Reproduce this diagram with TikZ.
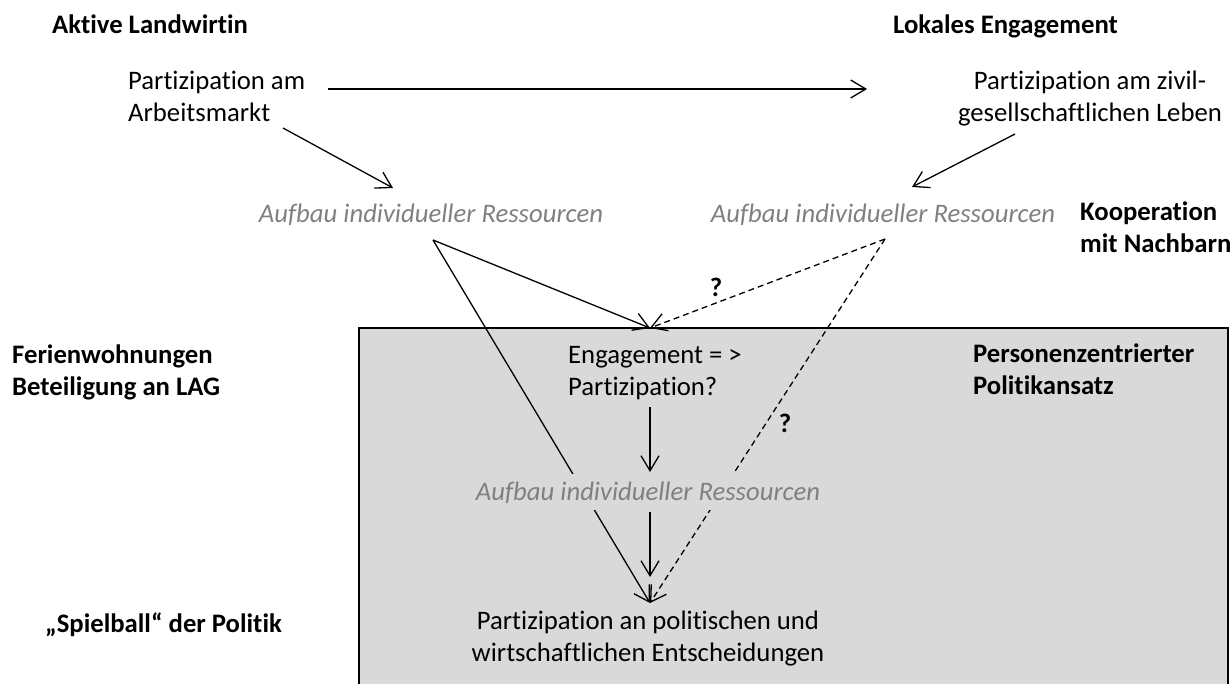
\documentclass[tikz,border=0pt]{standalone}
\usepackage{fontspec}
\setmainfont{Carlito}[Ligatures={TeX,NoCommon}]
\usetikzlibrary{arrows.meta}
\definecolor{boxgray}{RGB}{217,217,217}
\definecolor{txtgray}{RGB}{128,128,128}
\begin{document}
\begin{tikzpicture}[x=1pt,y=-1pt,
  every node/.style={inner sep=0pt, font=\fontsize{26.7}{32}\selectfont},
  boldtxt/.style={font=\fontsize{26.7}{32}\selectfont\bfseries},
  italtxt/.style={font=\fontsize{26.7}{32}\selectfont\itshape, text=txtgray},
  conn/.style={line width=1.3pt, -{Straight Barb[length=15pt,width=18pt]}},
  dconn/.style={conn, dash pattern=on 6pt off 4pt},
]
\useasboundingbox (0,0) rectangle (1230,683);
\begin{scope}
  \clip (0,0) rectangle (1230,683);
  \draw[line width=1.3pt, fill=boxgray] (359,328) rectangle (1228,700);
\end{scope}

% text nodes (anchor base = baseline of the last line)
\node[boldtxt, anchor=base west] (aktiv) at (52,33) {Aktive Landwirtin};
\node[boldtxt, anchor=base west] (lokal) at (893,33) {Lokales Engagement};
\node[anchor=base west, align=left] (arbeit) at (128,121) {Partizipation am\\Arbeitsmarkt};
\node[anchor=base, align=center] (zivil) at (1090,121) {Partizipation am zivil-\\gesellschaftlichen Leben};
\node[italtxt, anchor=base] (aufL) at (431,222) {Aufbau individueller Ressourcen};
\node[italtxt, anchor=base] (aufR) at (883,222) {Aufbau individueller Ressourcen};
\node[boldtxt, anchor=base west, align=left] (koop) at (1080,252) {Kooperation\\mit Nachbarn};
\node[boldtxt] (q1) at (716,287) {?};
\node[boldtxt, anchor=base west, align=left] (ferien) at (12,395) {Ferienwohnungen\\Beteiligung an LAG};
\node[anchor=base west, align=left] (eng) at (568,395) {Engagement = >\\Partizipation?};
\node[boldtxt, anchor=base west, align=left] (person) at (973,394) {Personenzentrierter\\Politikansatz};
\node[boldtxt] (q2) at (785,423) {?};
\node[boldtxt, anchor=base west] (spiel) at (45,632) {„Spielball“ der Politik};
\node[anchor=base, align=center] (entsch) at (648,661) {Partizipation an politischen und\\wirtschaftlichen Entscheidungen};

% connector end points
\coordinate (hs) at (328,89);
\coordinate (he) at (867,89);
\coordinate (as) at (283,128);
\coordinate (ae) at (393,188);
\coordinate (bs) at (1015,134);
\coordinate (be) at (912,187);
\coordinate (apexL) at (433,240);
\coordinate (apexR) at (885,239);
\coordinate (T) at (650,328);
\coordinate (B) at (650,603);
\coordinate (v1s) at (650,407);
\coordinate (v1e) at (650,472);
\coordinate (v2s) at (650,512);
\coordinate (v2e) at (650,577);

\draw[conn] (hs) -- (he);
\draw[conn] (as) -- (ae);
\draw[conn] (bs) -- (be);
\draw[conn] (apexL) -- (T);
\draw[dconn] (apexR) -- (T);
\draw[conn] (apexL) -- (B);
\draw[dconn] (apexR) -- (B);

\node[italtxt, anchor=base, fill=boxgray, inner xsep=2pt, inner ysep=7pt] (aufM) at (648,500) {Aufbau individueller Ressourcen};

\draw[conn] (v1s) -- (v1e);
\draw[conn] (v2s) -- (v2e);
\end{tikzpicture}
\end{document}
